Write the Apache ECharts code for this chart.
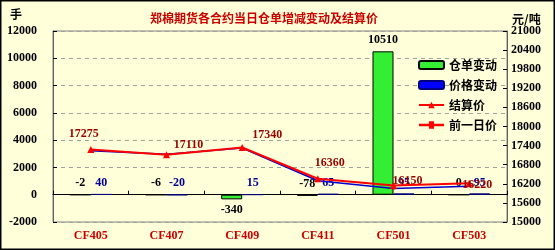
<!DOCTYPE html>
<html>
<head>
<meta charset="utf-8">
<script src="https://cdn.jsdelivr.net/npm/echarts@6/dist/echarts.min.js"></script>
<style>
html,body{margin:0;padding:0;background:#FFFFDA;}
#c{width:555px;height:250px;}
</style>
</head>
<body>
<div id="c"></div>
<script>
const categories = ['CF405','CF407','CF409','CF411','CF501','CF503'];
const receiptChange = [-2, -6, -340, -78, 10510, 0];
const priceChange = [40, -20, 15, 65, 95, 95];
const settlePrice = [17275, 17110, 17340, 16360, 16150, 16220];
const prevPrice = [17235, 17130, 17325, 16295, 16055, 16125];
const leftTicks = {min: -2000, max: 12000, interval: 2000};
const rightTicks = {min: 15000, max: 21000, interval: 600};

const numFont = 'Liberation Serif';
const cjkFont = 'Noto Sans CJK SC';
const settleLabelOffsets = [[-7,-1],[22,5],[25,2],[12,-1],[14,10],[8,16]];

const chart = echarts.init(document.getElementById('c'), null, {renderer:'canvas'});
chart.setOption({
  backgroundColor: '#FFFFDA',
  animation: false,
  title: {
    text: '郑棉期货各合约当日仓单增减变动及结算价',
    left: 145, top: 7,
    textStyle: {fontFamily: cjkFont, fontSize: 12, fontWeight: 'bold', color: '#CC0000'}
  },
  graphic: [
    {type:'rect', silent:true, shape:{x:0.5,y:0.5,width:554,height:249}, style:{fill:'none', stroke:'#000', lineWidth:2}},
    {type:'text', left: 10, top: 8, style:{text:'手', font:'bold 12px "Noto Sans CJK SC"', fill:'#000'}},
    {type:'text', left: 512, top: 13, style:{text:'元/吨', font:'bold 12px "Noto Sans CJK SC"', fill:'#000'}}
  ],
  legend: {
    orient: 'vertical', left: 413, top: 54,
    itemWidth: 25, itemHeight: 8, itemGap: 8,
    textStyle: {fontFamily: cjkFont, fontSize: 12, fontWeight: 'bold', color: '#000'},
    data: ['仓单变动','价格变动','结算价', {name: '前一日价', icon: 'path://M0,4 L10,4 L10,5 L0,5 Z M4,3 L6,3 L6,6 L4,6 Z'}]
  },
  grid: {left: 53, right: 48, top: 31, bottom: 28, show: true, borderColor: '#808080', borderWidth: 1, backgroundColor: 'transparent'},
  xAxis: [
    {
      type: 'category', data: categories,
      axisLine: {onZero: true, onZeroAxisIndex: 0, lineStyle: {color: '#000', width: 1}},
      axisTick: {show: true, inside: true, length: 4, interval: 0, lineStyle: {color: '#000'}},
      axisLabel: {show: false}
    },
    {
      type: 'category', data: categories, position: 'bottom',
      axisLine: {show: false, onZero: false},
      axisTick: {show: false},
      axisLabel: {color: '#CC0000', fontFamily: numFont, fontWeight: 'bold', fontSize: 12, margin: 8}
    }
  ],
  yAxis: [
    {
      type: 'value', min: leftTicks.min, max: leftTicks.max, interval: leftTicks.interval,
      axisLine: {show: true, lineStyle: {color: '#606060'}},
      axisTick: {show: true, inside: true, length: 4, lineStyle: {color: '#000'}},
      axisLabel: {color: '#000', fontFamily: numFont, fontWeight: 'bold', fontSize: 12, margin: 16, formatter: v => String(v)},
      splitLine: {show: true, lineStyle: {color: '#A0A0A0', type: [4,4]}}
    },
    {
      type: 'value', min: rightTicks.min, max: rightTicks.max, interval: rightTicks.interval,
      position: 'right',
      axisLine: {show: true, lineStyle: {color: '#606060'}},
      axisTick: {show: true, inside: true, length: 4, lineStyle: {color: '#000'}},
      axisLabel: {color: '#000', fontFamily: numFont, fontWeight: 'bold', fontSize: 12, margin: 4, formatter: v => String(v)},
      splitLine: {show: false}
    }
  ],
  series: [
    {
      name: '仓单变动', type: 'bar', xAxisIndex: 0, yAxisIndex: 0,
      barWidth: 21, barGap: '0%',
      itemStyle: {color: '#33EE33', borderColor: '#000', borderWidth: 1},
      label: {show: true, color: '#000', fontFamily: numFont, fontWeight: 'bold', fontSize: 12},
      data: receiptChange.map(v => ({value: v, label: {position: v < -200 ? 'bottom' : 'top'}}))
    },
    {
      name: '价格变动', type: 'bar', xAxisIndex: 0, yAxisIndex: 0,
      barWidth: 21, barGap: '0%',
      itemStyle: {color: '#0000FF', borderColor: '#000080', borderWidth: 1},
      label: {show: true, position: 'top', color: '#000099', fontFamily: numFont, fontWeight: 'bold', fontSize: 12},
      data: priceChange
    },
    {
      name: '前一日价', type: 'line', xAxisIndex: 0, yAxisIndex: 1, z: 3,
      symbol: 'rect', symbolSize: [4,2],
      lineStyle: {color: '#0000CC', width: 1.5},
      itemStyle: {color: '#FF0000'},
      data: prevPrice
    },
    {
      name: '结算价', type: 'line', xAxisIndex: 0, yAxisIndex: 1, z: 4,
      symbol: 'triangle', symbolSize: 7,
      lineStyle: {color: '#FF0000', width: 2},
      itemStyle: {color: '#FF0000'},
      label: {show: true, position: 'top', color: '#990000', fontFamily: numFont, fontWeight: 'bold', fontSize: 12},
      data: settlePrice.map((v, i) => ({value: v, label: {offset: settleLabelOffsets[i]}}))
    }
  ]
});
</script>
</body>
</html>
